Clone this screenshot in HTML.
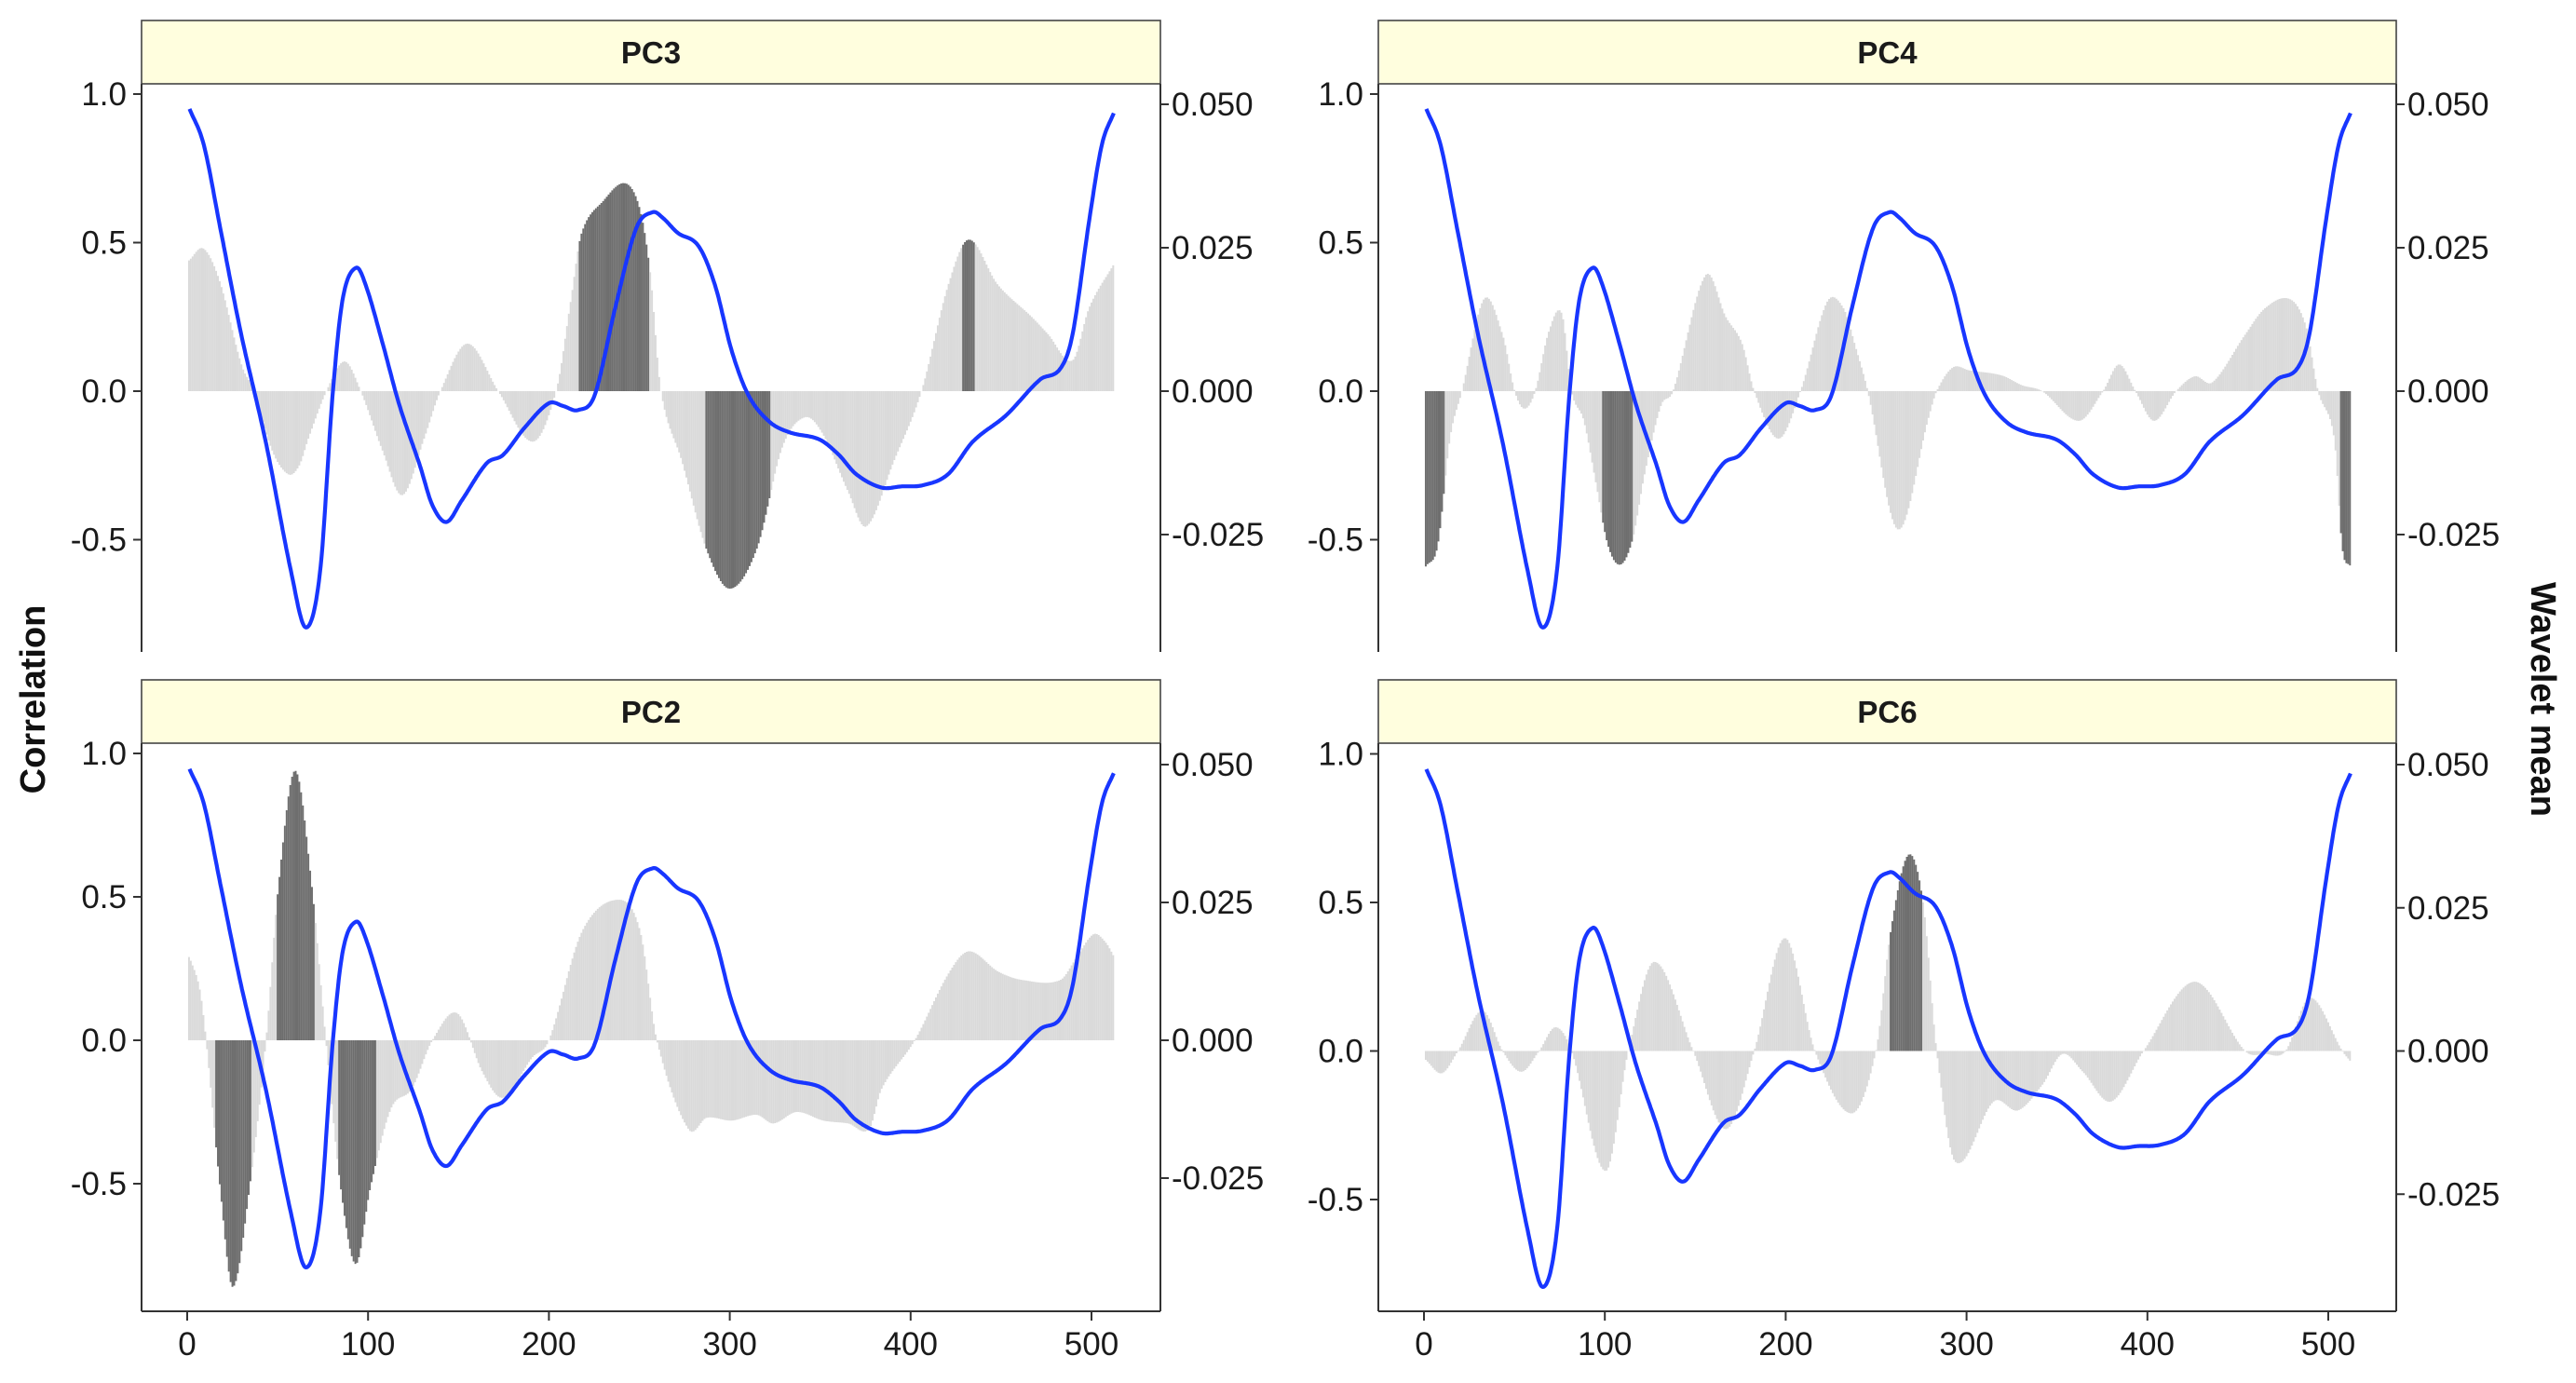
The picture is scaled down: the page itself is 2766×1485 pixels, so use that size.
<!DOCTYPE html>
<html><head><meta charset="utf-8"><style>
html,body{margin:0;padding:0;background:#fff;}
svg{display:block;font-family:"Liberation Sans",Arial,sans-serif;}
</style></head><body>
<svg id="s" width="2766" height="1485" viewBox="0 0 2766 1485" xmlns="http://www.w3.org/2000/svg"></svg>
<script>
var NS="http://www.w3.org/2000/svg",S=document.getElementById('s');
function el(t,a,txt){var e=document.createElementNS(NS,t);for(var k in a)e.setAttribute(k,a[k]);if(txt!==undefined)e.textContent=txt;S.appendChild(e);return e;}
function interp(P){return function(x){var n=P.length;if(x<=P[0][0])return P[0][1];if(x>=P[n-1][0])return P[n-1][1];
var i=0;while(P[i+1][0]<x)i++;var x0=P[i][0],x1=P[i+1][0],y0=P[i][1],y1=P[i+1][1];
function m(j){if(j<=0)return (P[1][1]-P[0][1])/(P[1][0]-P[0][0]);if(j>=n-1)return (P[n-1][1]-P[n-2][1])/(P[n-1][0]-P[n-2][0]);return (P[j+1][1]-P[j-1][1])/(P[j+1][0]-P[j-1][0]);}
var h=x1-x0,t=(x-x0)/h,m0=m(i)*h,m1=m(i+1)*h,t2=t*t,t3=t2*t;
return (2*t3-3*t2+1)*y0+(t3-2*t2+t)*m0+(-2*t3+3*t2)*y1+(t3-t2)*m1;};}
var W=interp([[1.3,.0492],[9.2,.0429],[18.3,.0284],[29.8,.0100],[43.6,-.0091],[57.4,-.0314],[65.7,-.0412],[73.5,-.0314],[80.4,-.0007],[86,.0161],[93.3,.0215],[98.8,.0184],[108,.0084],[117.2,-.0023],[128.7,-.0130],[135.6,-.0199],[143.4,-.0228],[151.7,-.0191],[165.5,-.0126],[174.7,-.0111],[186.2,-.0065],[200,-.0021],[208,-.0026],[216.1,-.0033],[225.3,-.0007],[236.7,.0146],[248.3,.0284],[257.4,.0312],[263,.0302],[271.2,.0276],[282.7,.0253],[291.9,.0184],[301.1,.0070],[310.3,-.0007],[321.8,-.0053],[333.3,-.0072],[349.4,-.0084],[360,-.0110],[370,-.0145],[383.8,-.0168],[395,-.0166],[406.8,-.0164],[420.6,-.0145],[434.4,-.0088],[452.8,-.0042],[471.5,.0020],[482.7,.0039],[489.6,.0100],[498.8,.0299],[505.7,.0429],[512.6,.0487]]);
var panels=[
{name:"PC3",L:152,R:1246,x0:201,top:22,sb:90,bot:700,z:420,cs:319,ws:6160,xax:false,
 c:[[1,.44],[9,.48],[18,.37],[30,.09],[37,0],[47,-.2],[56,-.28],[62,-.25],[67,-.16],[77,0],[87,.10],[96,0],[108,-.2],[119,-.35],[131,-.16],[140,0],[155,.16],[172,0],[191,-.17],[204,0],[212,.3],[218,.53],[230,.64],[242,.70],[250,.62],[256,.4],[262,0],[273.5,-.235],[287,-.53],[300,-.665],[315,-.53],[329,-.19],[341.6,-.088],[351.7,-.147],[365.5,-.339],[375.6,-.455],[390.8,-.235],[406,0],[420.7,.355],[432.2,.51],[448,.36],[466.6,.252],[475.8,.193],[489.6,.104],[498.8,.282],[512.6,.43]],
 dark:[[217,255],[287,322],[429,435]]},
{name:"PC4",L:1480,R:2573,x0:1529,top:22,sb:90,bot:700,z:420,cs:319,ws:6160,xax:false,
 c:[[1,-.59],[7.6,-.52],[14.4,-.16],[21,0],[33.2,.31],[43.5,.19],[50.2,0],[55.6,-.059],[61.5,0],[69,.2],[76.3,.26],[81.6,0],[88.4,-.1],[95.1,-.31],[101.8,-.52],[108.6,-.584],[115.3,-.50],[122,-.28],[131,-.05],[137.7,0],[155.7,.39],[166.9,.25],[175.9,.16],[182.6,0],[196,-.16],[208.2,0],[222.9,.30],[231.9,.28],[238.6,.15],[245.4,0],[262,-.465],[279,-.09],[283.5,0],[292.5,.08],[301.4,.07],[319.4,.053],[330.6,.02],[341.8,0],[362,-.10],[375.5,0],[384.4,.09],[393.4,0],[403.7,-.10],[415.9,0],[426.2,.05],[436,.03],[454,.19],[465.2,.28],[478.7,.31],[487.6,.22],[494.4,0],[503.3,-.16],[507.8,-.53],[512.3,-.59]],
 dark:[[0,11],[99,115],[507,513]]},
{name:"PC2",L:152,R:1246,x0:201,top:730,sb:798,bot:1408,z:1117,cs:308,ws:5920,xax:true,
 c:[[1.3,.29],[6.9,.18],[10.5,0],[18.3,-.52],[25.2,-.86],[34.4,-.52],[43.6,0],[50.5,.54],[59.7,.94],[68.9,.54],[76.7,0],[85,-.52],[93.3,-.78],[101.1,-.52],[112.6,-.24],[124.1,-.17],[135.6,0],[149.4,.094],[163.2,-.11],[174.7,-.20],[190.8,-.06],[200,0],[218.4,.38],[239,.49],[250.5,.38],[259.7,0],[277.2,-.31],[287.3,-.27],[301.1,-.28],[314.9,-.26],[324.1,-.29],[337,-.25],[351.7,-.28],[365.5,-.29],[377,-.31],[383.9,-.17],[402.3,0],[420.7,.23],[432.2,.31],[448.3,.24],[462,.21],[482.7,.21],[491.9,.29],[501.2,.37],[508,.34],[512.6,.29]],
 dark:[[16,35],[50,70],[84,104]]},
{name:"PC6",L:1480,R:2573,x0:1529,top:730,sb:798,bot:1408,z:1128.5,cs:319,ws:6150,xax:true,
 c:[[1,-.03],[9.9,-.075],[18.8,0],[32.3,.136],[43.5,0],[53.8,-.07],[63.7,0],[72.7,.08],[81.6,0],[100.5,-.404],[113,0],[127.4,.30],[148.9,0],[166.9,-.263],[182.6,0],[199.6,.38],[216.2,0],[236.4,-.21],[249.9,0],[258,.4],[267.8,.66],[276,.5],[283.5,0],[293.8,-.373],[315,-.17],[328.4,-.20],[341.8,-.115],[353,-.01],[364.3,-.07],[380,-.17],[397.9,0],[426.2,.233],[454,0],[465.2,-.01],[476.4,0],[489.9,.18],[507.8,0],[512.3,-.035]],
 dark:[[258,275]]}
];
panels.forEach(function(p){
  var C=interp(p.c),X=function(x){return p.x0+1.942*x;};
  for(var i=1;i<=512;i++){var v=C(i),dk=false;p.dark.forEach(function(d){if(i>=d[0]&&i<=d[1])dk=true;});
    var y=p.z-v*p.cs;el('line',{x1:X(i),x2:X(i),y1:p.z,y2:y,stroke:dk?'#6e6e6e':'#dadada','stroke-width':1.95});}
  var pts=[];for(var x=1.3;x<=512.6;x+=0.5){pts.push(X(x).toFixed(1)+','+(p.z-W(x)*p.ws).toFixed(1));}
  el('polyline',{points:pts.join(' '),fill:'none',stroke:'#1836ff','stroke-width':4.2,'stroke-linejoin':'round'});
  el('rect',{x:p.L,y:p.top,width:p.R-p.L,height:p.sb-p.top,fill:'#fffede',stroke:'#444','stroke-width':1.6});
  el('text',{x:(p.L+p.R)/2,y:p.top+46,'text-anchor':'middle','font-size':33,'font-weight':'bold',fill:'#1a1a1a'},p.name);
  el('line',{x1:p.L,x2:p.L,y1:p.sb,y2:p.bot,stroke:'#333','stroke-width':2});
  el('line',{x1:p.R,x2:p.R,y1:p.sb,y2:p.bot,stroke:'#333','stroke-width':2});
  if(p.xax){el('line',{x1:p.L,x2:p.R,y1:p.bot,y2:p.bot,stroke:'#333','stroke-width':2});
    for(var t=0;t<=500;t+=100){el('line',{x1:X(t),x2:X(t),y1:p.bot,y2:p.bot+10,stroke:'#333','stroke-width':2});
      el('text',{x:X(t),y:p.bot+47,'text-anchor':'middle','font-size':35,fill:'#1a1a1a'},String(t));}}
  [1,0.5,0,-0.5].forEach(function(v){var y=p.z-v*p.cs;el('line',{x1:p.L-9,x2:p.L,y1:y,y2:y,stroke:'#333','stroke-width':2});
    el('text',{x:p.L-16,y:y+12,'text-anchor':'end','font-size':35,fill:'#1a1a1a'},v.toFixed(1));});
  [0.05,0.025,0,-0.025].forEach(function(v){var y=p.z-v*p.ws;el('line',{x1:p.R,x2:p.R+9,y1:y,y2:y,stroke:'#333','stroke-width':2});
    el('text',{x:p.R+12,y:y+12,'text-anchor':'start','font-size':35,fill:'#1a1a1a'},v.toFixed(3));});
});
el('text',{x:0,y:0,transform:'translate(48,751) rotate(-90)','text-anchor':'middle','font-size':38,'font-weight':'bold',fill:'#111'},'Correlation');
el('text',{x:0,y:0,transform:'translate(2718,751) rotate(90)','text-anchor':'middle','font-size':38,'font-weight':'bold',fill:'#111'},'Wavelet mean');
</script>
</body></html>
